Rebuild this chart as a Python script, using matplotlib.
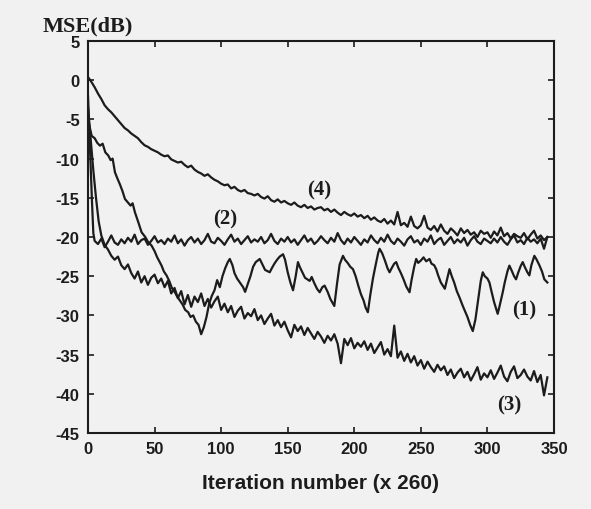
import numpy as np
import matplotlib
matplotlib.use("Agg")
import matplotlib.pyplot as plt

# ---------------- data ----------------
x_ticks = [0, 50, 100, 150, 200, 250, 300, 350]
y_ticks = [5, 0, -5, -10, -15, -20, -25, -30, -35, -40, -45]

# curve (4): slow convergence
x4 = np.arange(0, 345.1, 2.5)
y4 = [0.4, -0.2, -0.9, -1.7, -2.4, -3.2, -3.7, -4.1, -4.6, -5.1,
      -5.6, -6.1, -6.4, -6.8, -7.1, -7.4, -7.9, -8.3, -8.5, -8.8,
      -9.0, -9.2, -9.5, -9.7, -9.6, -10.1, -10.3, -10.5, -10.4, -10.8,
      -11.1, -10.9, -11.4, -11.7, -11.9, -12.2, -12.0, -12.4, -12.7, -12.9,
      -13.2, -13.4, -13.3, -13.8, -13.6, -14.0, -14.2, -14.0, -14.4, -14.5,
      -14.7, -14.5, -14.9, -15.1, -14.8, -15.3, -15.5, -15.2, -15.6, -15.4,
      -15.7, -15.9, -15.6, -16.0, -16.2, -15.9, -16.3, -16.1, -16.5, -16.3,
      -16.2, -16.6, -16.4, -16.8, -16.5, -16.9, -17.2, -16.8, -17.1, -17.3,
      -17.0, -17.4, -17.2, -17.6, -17.3, -17.8, -17.5, -17.9, -18.1, -17.7,
      -18.3, -17.9, -18.4, -16.8, -18.5, -18.2, -18.7, -17.4, -18.6, -18.9,
      -18.5, -17.3, -18.8, -19.1, -18.6, -19.3, -18.4, -19.2, -19.6, -18.9,
      -19.3, -19.8, -18.9, -19.5, -19.1, -19.7, -19.4, -20.0, -19.2, -19.6,
      -19.4, -20.1, -19.3, -19.8, -18.8, -19.9, -19.5, -20.2, -19.6, -19.9,
      -20.1, -19.5, -20.3, -19.7, -19.2, -20.2, -19.8, -20.4, -20.0]

# curve (2): fast convergence to -20 dB
x2_head = [0, 1, 2, 3, 4]
y2_head = [-2.0, -6.5, -11.0, -15.5, -19.5]
x2_tail = np.arange(5, 345.1, 2.5)
y2_tail = [-20.5, -20.9, -20.2, -21.3, -20.6, -19.8, -20.7, -21.0, -20.3, -20.8,
           -20.1, -20.6, -19.7, -20.9, -20.4, -20.2, -21.0, -20.5, -19.9, -20.7,
           -20.4, -20.9, -20.2, -20.6, -19.8, -20.8, -20.3, -21.1, -20.4, -20.0,
           -20.7, -20.2, -20.9, -20.4, -19.6, -20.6, -20.8, -20.1, -20.5, -21.0,
           -20.3, -19.7, -20.6, -20.2, -20.9, -20.4, -19.9, -20.7, -20.3, -20.6,
           -20.0, -20.8, -20.4, -19.6, -20.5, -20.9, -20.2, -20.6, -20.0, -20.7,
           -20.3, -21.0, -20.4, -19.8, -20.6, -20.2, -20.9, -20.5, -19.9, -20.4,
           -20.8, -20.1, -20.6, -19.5, -20.4, -20.9, -20.2, -20.7, -20.0, -20.5,
           -21.0, -20.3, -20.7, -19.8, -20.4, -20.8, -20.1, -20.6, -19.7, -20.5,
           -20.9, -20.2, -20.6, -21.1, -20.3, -19.9, -20.7, -20.4, -21.0, -20.2,
           -20.6, -19.8, -20.9, -20.4, -20.1, -21.0, -20.5, -20.0, -20.8, -20.3,
           -20.7, -20.1, -21.1, -20.4, -19.9, -20.6, -20.9, -20.2, -20.5, -20.8,
           -20.2, -20.7, -20.0, -20.6, -21.0, -20.3, -19.8, -20.7, -20.4, -20.9,
           -20.1, -20.6, -20.3, -20.8, -20.2, -21.5, -20.0]

# curve (3): fast then steady decrease
x3_head = [0, 2, 4, 6, 8]
y3_head = [-3.5, -7.5, -11.5, -15.0, -18.0]
x3_tail = np.arange(10, 345.1, 2.5)
y3_tail = [-19.8, -21.0, -21.6, -22.4, -22.9, -22.5, -23.6, -24.1,
           -23.5, -24.6, -25.3, -24.4, -25.8, -25.0, -26.1, -25.2, -24.8, -25.9,
           -25.3, -26.4, -25.6, -27.2, -26.5, -27.8, -26.9, -28.6, -27.4, -28.9,
           -27.6, -28.3, -27.2, -28.8, -27.9, -29.0, -28.2, -27.6, -29.3, -28.5,
           -29.6, -28.8, -30.2, -29.4, -28.9, -30.4, -29.7, -30.1, -29.2, -30.6,
           -30.0, -31.1, -30.4, -29.8, -31.3, -30.6, -31.5, -30.8, -31.9, -32.8,
           -31.2, -32.0, -31.4, -32.5, -31.6, -32.3, -33.0, -32.1, -32.7, -33.5,
           -32.6, -33.2, -32.4, -33.6, -36.1, -33.0, -33.8, -32.9, -34.2, -33.5,
           -34.0, -33.3, -34.4, -33.6, -34.8, -34.1, -33.4, -35.0, -34.3, -35.2,
           -31.3, -35.4, -34.6, -35.8, -34.9, -36.0, -35.2, -36.4, -35.7, -36.8,
           -35.9, -36.6, -37.2, -36.3, -37.0, -36.5, -37.6, -36.9, -38.0, -37.3,
           -36.8, -37.9, -37.2, -38.3, -37.5, -36.6, -38.2, -37.4, -37.9, -37.0,
           -38.1, -37.3, -36.4, -37.8, -38.4, -37.2, -36.5, -38.0, -37.6, -36.9,
           -37.8, -38.3, -37.1, -38.5, -37.6, -40.2, -37.9]

# curve (1): oscillating
x1 = [0, 2.75, 5, 7, 9, 11, 13, 15.2, 17, 18.5, 20.25, 22, 24, 26, 27.75, 30, 32, 33.5,
      35.25, 37.75, 40.25, 43, 45, 47.75, 50, 52, 55.25, 57, 59, 61, 63, 65.25, 67, 69,
      71, 73, 75.25, 77, 79, 81, 83, 85, 87, 89, 91, 93, 95, 97, 99, 101, 103, 105,
      106.5, 108.5, 110, 112, 114, 116.5, 118, 120, 122, 124, 126, 129, 131, 133,
      136.5, 138, 140, 142, 144, 146.5, 148, 150, 152, 154, 156, 157.7, 159, 161,
      163, 166.5, 168, 170, 172, 174, 176, 177.7, 180, 182, 185, 187, 189, 191.5,
      193, 195, 197, 199, 201, 203, 205, 207, 208.5, 210.2, 212, 214, 216, 218, 219,
      221, 223, 225, 226.5, 228, 230, 231.5, 233, 235, 237, 239, 241.5, 243, 245,
      246.5, 248, 250, 252, 254, 256.5, 258, 260, 261.5, 263, 265, 268, 270, 271.5,
      273, 275, 277, 279, 281.5, 283, 285, 287, 289, 291, 293, 295, 296.5, 298, 300,
      301.5, 303, 305, 307.7, 309, 311.5, 313, 315, 316.5, 318, 320, 321.5, 323, 325,
      326.5, 328, 330, 331.5, 333, 335.25, 337, 339, 341, 342.75, 345]
y1 = [-5.0, -7.1, -7.4, -8.0, -8.35, -8.1, -9.2, -9.6, -10.2, -10.0, -11.75, -12.5,
      -13.3, -14.2, -15.15, -15.6, -16.0, -15.7, -16.85, -18.1, -19.4, -20.0, -20.6,
      -21.1, -21.8, -22.6, -23.65, -24.4, -24.9, -25.6, -26.5, -27.05, -27.6, -28.1,
      -28.6, -29.3, -29.6, -30.2, -30.0, -30.8, -31.2, -32.4, -31.5, -30.2, -28.5,
      -27.5, -26.8, -25.5, -26.4, -25.0, -24.0, -23.2, -22.8, -23.6, -24.6, -25.3,
      -25.8, -26.4, -27.0, -26.0, -25.0, -23.8, -23.2, -22.8, -23.5, -24.2, -24.5,
      -24.0, -23.4, -22.9, -22.5, -22.2, -22.9, -24.5, -25.8, -26.8, -25.0, -23.2,
      -23.8, -24.5, -25.2, -25.6, -25.1, -25.9, -26.6, -27.05, -26.4, -26.2, -27.0,
      -27.9, -28.8, -26.0, -23.5, -22.4, -22.9, -23.3, -23.8, -24.1, -25.0, -26.2,
      -27.3, -28.1, -29.0, -29.6, -27.4, -25.3, -23.6, -22.0, -21.5, -22.1, -23.0,
      -24.0, -24.5, -24.0, -23.4, -23.2, -23.9, -24.6, -25.4, -26.3, -27.05, -25.5,
      -23.8, -22.8, -23.3, -23.0, -22.6, -23.1, -22.8, -23.4, -23.6, -24.1, -24.9,
      -25.8, -26.6, -25.2, -24.1, -24.9, -25.8, -26.9, -27.7, -28.8, -29.4, -30.2,
      -31.2, -32.0, -30.5, -28.0, -25.6, -24.5, -25.0, -25.3, -25.8, -26.9, -28.3,
      -29.8, -28.9, -27.05, -25.8, -24.4, -23.65, -24.2, -25.0, -25.4, -24.6, -23.7,
      -23.2, -23.8, -24.5, -24.9, -23.6, -22.4, -22.9, -23.6, -24.4, -25.4, -25.8]

curve_labels = ["(1)", "(2)", "(3)", "(4)"]
label_x = [327.8, 102.8, 316.5, 174.0]
label_y = [-29.2, -17.7, -41.3, -13.9]

# ---------------- plot ----------------
bg = "#f1f1f1"
ink = "#1c1c1c"
fig = plt.figure(figsize=(5.91, 5.10), dpi=100, facecolor=bg)
ax = fig.add_axes([88 / 591, 1 - 434 / 510, (554 - 88) / 591, (434 - 42) / 510])
ax.set_facecolor(bg)

lw = 1.6
ax.plot(x4, y4, color=ink, lw=lw)
ax.plot(np.concatenate([x2_head, x2_tail]), y2_head + y2_tail, color=ink, lw=lw)
ax.plot(np.concatenate([x3_head, x3_tail]), y3_head + y3_tail, color=ink, lw=lw)
ax.plot(x1, y1, color=ink, lw=lw)

for t, lx, ly in zip(curve_labels, label_x, label_y):
    ax.text(lx, ly, t, ha="center", va="center", fontsize=15,
            fontweight="bold", family="Liberation Serif", color=ink)

ax.set_xlim(0, 350)
ax.set_ylim(-45, 5)
ax.set_xticks(x_ticks)
ax.set_yticks(y_ticks)
ax.set_xticklabels([str(v) for v in x_ticks])
ax.set_yticklabels([str(v) for v in y_ticks])
ax.tick_params(direction="in", length=4, width=1.2, colors=ink,
               top=True, right=True, labelsize=12, pad=6)
for lab in ax.get_xticklabels() + ax.get_yticklabels():
    lab.set_fontweight("bold")
    lab.set_family("Liberation Sans")
for s in ax.spines.values():
    s.set_linewidth(1.5)
    s.set_color(ink)

ax.set_xlabel("Iteration number (x 260)", fontsize=15, fontweight="bold",
              family="Liberation Sans", color=ink, labelpad=12)
fig.text(43 / 591, 1 - 26 / 510, "MSE(dB)", ha="left", va="center",
         fontsize=16, fontweight="bold", family="Liberation Serif", color=ink)

fig.savefig("out.png", dpi=100, facecolor=bg)
